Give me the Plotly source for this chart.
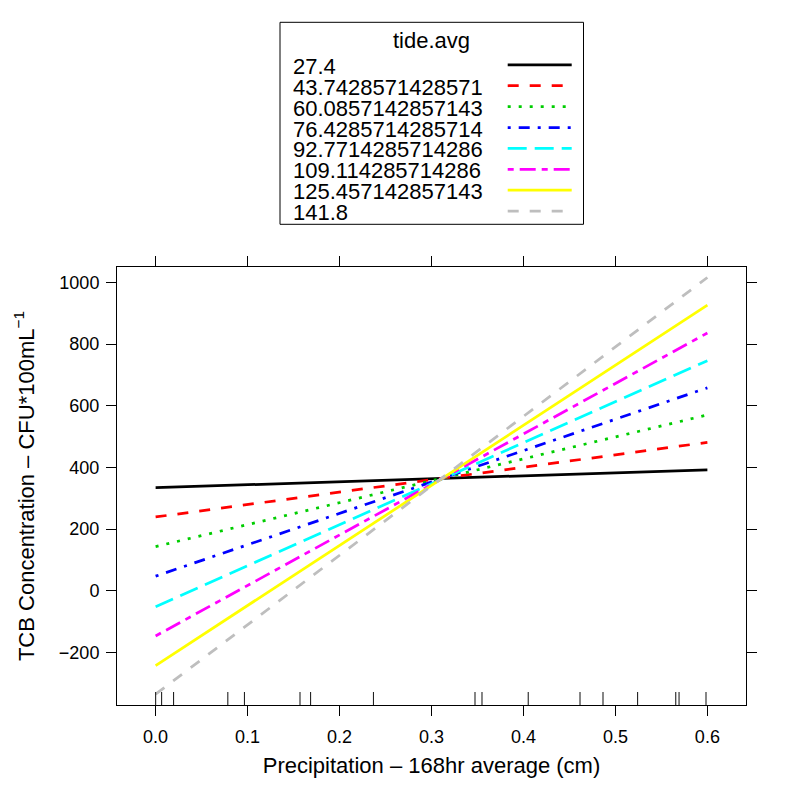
import plotly.graph_objects as go

# ---- data ----
precip_ends = [0.0, 0.6]
tide_levels = ["27.4", "43.7428571428571", "60.0857142857143", "76.4285714285714",
               "92.7714285714286", "109.114285714286", "125.457142857143", "141.8"]
tcb_at_0 = [334, 239, 143, 47, -52, -147, -243, -336]
tcb_at_06 = [392, 481, 570, 658, 746, 836, 926, 1016]
rug_precip = [0.0, 0.0065, 0.0195, 0.0785, 0.0966, 0.157, 0.1685, 0.2369, 0.3473,
              0.3549, 0.4052, 0.4615, 0.4865, 0.5241, 0.5656, 0.5692, 0.5985]
x_ticks = [0.0, 0.1, 0.2, 0.3, 0.4, 0.5, 0.6]
x_tick_text = ["0.0", "0.1", "0.2", "0.3", "0.4", "0.5", "0.6"]
y_ticks = [-200, 0, 200, 400, 600, 800, 1000]

# ---- styles ----
colors = ["#000000", "#FF0000", "#00CD00", "#0000FF", "#00FFFF", "#FF00FF", "#FFFF00", "#BEBEBE"]
dashes = ["solid", "11px,11px", "3px,8px", "3px,8px,11px,8px", "19px,8px",
          "6px,6px,16px,6px", "solid", "11px,11px"]
LW = 2.75
FONT = "Liberation Sans, Arial, Helvetica, sans-serif"

OFF = 8  # page body margin in the browser
W = H = 800 - OFF
L, R, T, B = 117 - OFF, 54, 267 - OFF, 95
PW = W - L - R
PH = H - T - B


def pxx(x):
    return (x - OFF - L) / PW


def pyy(y):
    return (H - B - (y - OFF)) / PH


fig = go.Figure()
for i, lvl in enumerate(tide_levels):
    fig.add_trace(go.Scatter(
        x=precip_ends, y=[tcb_at_0[i], tcb_at_06[i]], mode="lines",
        line=dict(color=colors[i], width=LW, dash=dashes[i]),
        name=lvl, showlegend=False))

shapes = []
# rug along bottom edge
for r in rug_precip:
    shapes.append(dict(type="line", xref="x", yref="paper", x0=r, x1=r,
                       y0=0, y1=13 / PH, line=dict(color="#222222", width=1.1)))

# custom legend (lattice-style key): box, title, text left, line samples right
shapes.append(dict(type="rect", xref="paper", yref="paper",
                   x0=pxx(280), x1=pxx(583.5), y0=pyy(224.3), y1=pyy(22.3),
                   line=dict(color="black", width=1), fillcolor="white"))
annotations = [dict(text="tide.avg", xref="paper", yref="paper", x=pxx(431.7), y=pyy(40),
                    xanchor="center", yanchor="middle", showarrow=False,
                    font=dict(family=FONT, size=22, color="black"))]
for i, lvl in enumerate(tide_levels):
    yrow = 64.8 + 20.9 * i
    annotations.append(dict(text=lvl, xref="paper", yref="paper", x=pxx(291), y=pyy(yrow + 1.5),
                            xanchor="left", yanchor="middle", showarrow=False,
                            font=dict(family=FONT, size=22, color="black")))
    shapes.append(dict(type="line", xref="paper", yref="paper",
                       x0=pxx(507.7), x1=pxx(571.7), y0=pyy(yrow), y1=pyy(yrow),
                       line=dict(color=colors[i], width=LW, dash=dashes[i])))

axis_common = dict(showline=True, linecolor="black", linewidth=1, mirror="ticks",
                   ticks="outside", ticklen=10, tickwidth=1, tickcolor="black",
                   showgrid=False, zeroline=False,
                   tickfont=dict(family=FONT, size=18, color="black"))

fig.update_layout(
    width=W, height=H,
    margin=dict(l=L, r=R, t=T, b=B),
    paper_bgcolor="white", plot_bgcolor="white",
    font=dict(family=FONT, color="black"),
    xaxis=dict(range=[-0.042, 0.642], tickvals=x_ticks, ticktext=x_tick_text,
               title=dict(text="Precipitation – 168hr average (cm)",
                          font=dict(family=FONT, size=22, color="black"), standoff=12),
               ticklabelstandoff=5,
               **axis_common),
    yaxis=dict(range=[-371, 1050], tickvals=y_ticks,
               title=dict(text="TCB Concentration – CFU*100mL<sup>−1</sup>",
                          font=dict(family=FONT, size=22, color="black"), standoff=18),
               ticklabelstandoff=3,
               **axis_common),
    shapes=shapes,
    annotations=annotations,
    showlegend=False,
)

fig.write_html("out.html")
